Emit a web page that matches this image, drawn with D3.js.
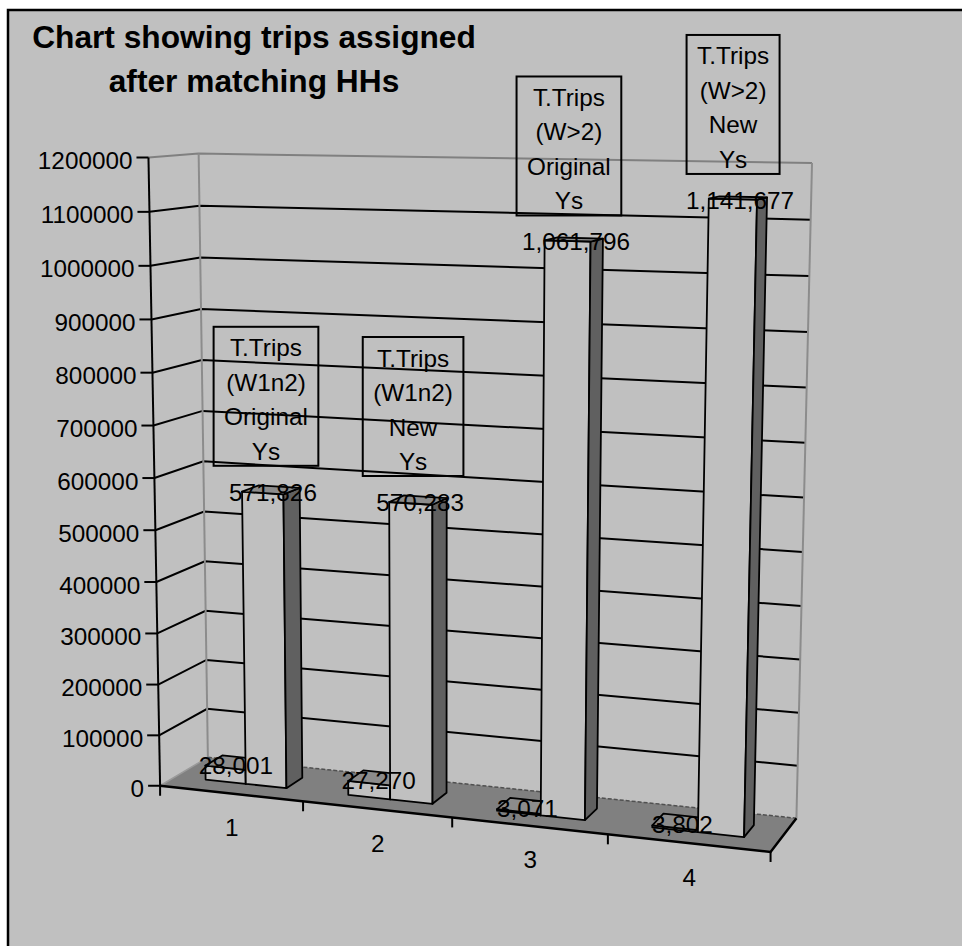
<!DOCTYPE html>
<html lang="en">
<head>
<meta charset="utf-8">
<script src="https://d3js.org/d3.v7.min.js"></script>
<style>
  body { margin: 0; background: #fff; }
  svg text { font-family: "Liberation Sans", Arial, sans-serif; fill: #000; }
</style>
</head>
<body>
<div id="chart"></div>
<script>
// chart values
const categories = ["1", "2", "3", "4"];
const seriesNames = ["matched", "total"];
const matchedTrips = [28001, 27270, 3071, 3802];
const totalTrips = [571826, 570283, 1061796, 1141677];
const boxLabels = [
  ["T.Trips", "(W1n2)", "Original", "Ys"],
  ["T.Trips", "(W1n2)", "New", "Ys"],
  ["T.Trips", "(W>2)", "Original", "Ys"],
  ["T.Trips", "(W>2)", "New", "Ys"]
];
const yTicks = d3.range(0, 1200001, 100000);
const titleLines = ["Chart showing trips assigned", "after matching HHs"];

const width = 962, height = 946;

// perspective camera, fitted on the corners of the plot box (x, value, depth -> screen)
const calib = [
  [0, 0, 0, 161, 786], [1, 0, 0, 770, 852], [0, 1, 0, 148, 157], [0, 0.5, 0, 154.6, 478],
  [0.25, 0, 0, 303, 801.4], [0.5, 0, 0, 452, 817.5], [0.75, 0, 0, 608, 834.4],
  [0, 0, 1, 207, 757], [1, 0, 1, 797, 818], [0, 1, 1, 199, 154], [1, 1, 1, 812, 163]
];

function fitProjection(pts) {
  const cu = 480, cv = 500, s = 400;
  const A = [], b = [];
  pts.forEach(([X, Y, Z, U, V]) => {
    const u = (U - cu) / s, v = (V - cv) / s;
    A.push([X, Y, Z, 1, 0, 0, 0, 0, -u * X, -u * Y, -u * Z]); b.push(u);
    A.push([0, 0, 0, 0, X, Y, Z, 1, -v * X, -v * Y, -v * Z]); b.push(v);
  });
  const n = 11;
  const M = d3.range(n).map(i => d3.range(n + 1).map(j =>
    j < n ? d3.sum(A, r => r[i] * r[j]) : d3.sum(A, (r, k) => r[i] * b[k])));
  for (let c = 0; c < n; c++) {
    let p = c;
    for (let r = c + 1; r < n; r++) if (Math.abs(M[r][c]) > Math.abs(M[p][c])) p = r;
    [M[c], M[p]] = [M[p], M[c]];
    for (let r = 0; r < n; r++) {
      if (r === c) continue;
      const f = M[r][c] / M[c][c];
      for (let k = c; k <= n; k++) M[r][k] -= f * M[c][k];
    }
  }
  const m = M.map((row, i) => row[n] / row[i]);
  return (X, Y, Z) => {
    const w = m[8] * X + m[9] * Y + m[10] * Z + 1;
    return [cu + s * (m[0] * X + m[1] * Y + m[2] * Z + m[3]) / w,
            cv + s * (m[4] * X + m[5] * Y + m[6] * Z + m[7]) / w];
  };
}
const P = fitProjection(calib);

// scales into the unit box
const xCat = d3.scaleBand().domain(categories).range([0, 1]);
const xSer = d3.scaleBand().domain(seriesNames).range([0, xCat.bandwidth()]).paddingOuter(0.75);
const y = d3.scaleLinear().domain([0, 1200000]).range([0, 1]);
const zFront = 0.32, zBack = 0.68;

const svg = d3.select("#chart").append("svg")
  .attr("width", width).attr("height", height);

svg.append("rect")
  .attr("x", 8).attr("y", 10).attr("width", 1000).attr("height", 1000)
  .attr("fill", "#c0c0c0").attr("stroke", "#000").attr("stroke-width", 2.5);

const line = d3.line();
const poly = pts => line(pts) + "Z";

// floor
svg.append("path")
  .attr("d", poly([P(0, 0, 0), P(1, 0, 0), P(1, 0, 1), P(0, 0, 1)]))
  .attr("fill", "#808080");
svg.append("path").attr("d", line([P(0, 0, 1), P(1, 0, 1)]))
  .attr("stroke", "#505050").attr("stroke-width", 1.5).attr("stroke-dasharray", "4,2").attr("fill", "none");
svg.append("path").attr("d", line([P(0, 0, 0), P(0, 0, 1)]))
  .attr("stroke", "#9a9a9a").attr("stroke-width", 1.5).attr("fill", "none");

// gridlines on side and back walls
const grid = svg.append("g").attr("fill", "none");
yTicks.filter(v => v > 0).forEach(v => {
  const top = v === y.domain()[1];
  grid.append("path")
    .attr("d", line([P(0, y(v), 0), P(0, y(v), 1), P(1, y(v), 1)]))
    .attr("stroke", top ? "#808080" : "#000")
    .attr("stroke-width", top ? 2 : 2);
});
[0, 1].forEach(x => {
  grid.append("path").attr("d", line([P(x, 0, 1), P(x, 1, 1)]))
    .attr("stroke", "#8c8c8c").attr("stroke-width", 2);
});

// floor front and right edges
svg.append("path").attr("d", line([P(0, 0, 0), P(1, 0, 0), P(1, 0, 1)]))
  .attr("stroke", "#000").attr("stroke-width", 2.5).attr("fill", "none");

// value axis
const axis = svg.append("g");
axis.append("path").attr("d", line([P(0, 0, 0), P(0, 1, 0)]))
  .attr("stroke", "#000").attr("stroke-width", 2).attr("fill", "none");
yTicks.forEach(v => {
  const [px, py] = P(0, y(v), 0);
  axis.append("line").attr("x1", px - 12).attr("x2", px).attr("y1", py).attr("y2", py)
    .attr("stroke", "#000").attr("stroke-width", 2);
  axis.append("text").attr("x", px - 16).attr("y", py + 11.5)
    .attr("text-anchor", "end").attr("font-size", 24.3).text(v);
});

// category axis ticks and labels
d3.range(categories.length + 1).forEach(k => {
  const [px, py] = P(k / categories.length, 0, 0);
  axis.append("line").attr("x1", px).attr("x2", px).attr("y1", py).attr("y2", py + 10)
    .attr("stroke", "#000").attr("stroke-width", 2);
});
categories.forEach(c => {
  const [px, py] = P(xCat(c) + xCat.bandwidth() / 2, 0, 0);
  axis.append("text").attr("x", px + 1).attr("y", py + 34 + 8.5)
    .attr("text-anchor", "middle").attr("font-size", 24.3).text(c);
});

// columns
const bars = svg.append("g").attr("stroke", "#000").attr("stroke-width", 1.8).attr("stroke-linejoin", "round");
const tops = [];
categories.forEach((c, i) => {
  [matchedTrips[i], totalTrips[i]].forEach((val, s) => {
    const x0 = xCat(c) + xSer(seriesNames[s]);
    const x1 = x0 + xSer.bandwidth();
    const h = y(val);
    bars.append("path").attr("fill", "#c0c0c0")
      .attr("d", poly([P(x0, 0, zFront), P(x1, 0, zFront), P(x1, h, zFront), P(x0, h, zFront)]));
    bars.append("path").attr("fill", "#606060")
      .attr("d", poly([P(x1, 0, zFront), P(x1, 0, zBack), P(x1, h, zBack), P(x1, h, zFront)]));
    bars.append("path").attr("fill", "#8c8c8c")
      .attr("d", poly([P(x0, h, zFront), P(x1, h, zFront), P(x1, h, zBack), P(x0, h, zBack)]));
    tops.push({ s, i, val, pt: P((x0 + x1) / 2, h, (zFront + zBack) / 2) });
  });
});

// value labels
const fmt = d3.format(",");
tops.forEach(t => {
  svg.append("text").attr("x", t.pt[0] + 2).attr("y", t.pt[1] + 11)
    .attr("text-anchor", "middle").attr("font-size", 24.3).text(fmt(t.val));
});

// series text boxes above the tall columns
tops.filter(t => t.s === 1).forEach(t => {
  const g = svg.append("g");
  const cx = t.pt[0] - 5, bottom = t.pt[1] - 24, boxH = 139;
  const texts = boxLabels[t.i].map((txt, k) =>
    g.append("text").attr("x", cx).attr("y", bottom - boxH + 21 + k * 34.5 + 8.5)
      .attr("text-anchor", "middle").attr("font-size", 24.3).text(txt));
  const w = d3.max(texts, tx => tx.node().getComputedTextLength()) + 21;
  g.insert("rect", "text").attr("x", cx - w / 2).attr("y", bottom - boxH)
    .attr("width", w).attr("height", boxH)
    .attr("fill", "none").attr("stroke", "#000").attr("stroke-width", 2);
});

// title
titleLines.forEach((t, k) => {
  svg.append("text").attr("x", 254).attr("y", 48 + k * 44)
    .attr("text-anchor", "middle").attr("font-size", 31.7).attr("font-weight", "bold").text(t);
});
</script>
</body>
</html>
